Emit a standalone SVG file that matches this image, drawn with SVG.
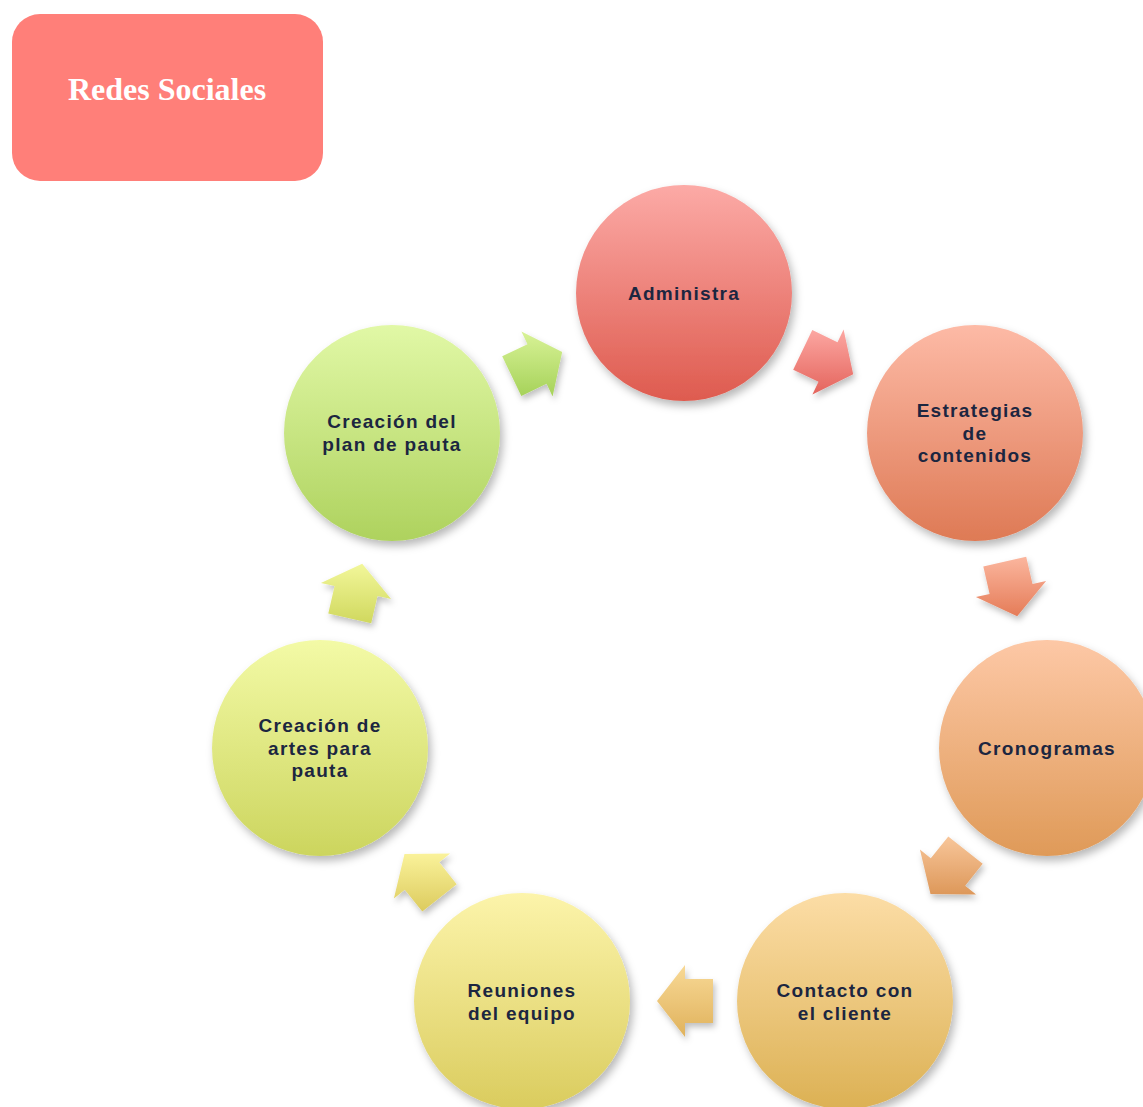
<svg xmlns="http://www.w3.org/2000/svg" width="1143" height="1107" viewBox="0 0 1143 1107">
<style>
.lbl{font-family:"Liberation Sans",Arial,sans-serif;font-size:19px;font-weight:bold;fill:#1c2640;text-anchor:middle;letter-spacing:1.3px}
.title{font-family:"Liberation Serif","Times New Roman",serif;font-size:32px;font-weight:bold;fill:#ffffff;text-anchor:middle}
</style>
<defs>
<filter id="sh" x="-30%" y="-30%" width="160%" height="160%">
<feDropShadow dx="3" dy="5" stdDeviation="4" flood-color="#000" flood-opacity="0.28"/>
</filter>
<filter id="sha" x="-40%" y="-40%" width="180%" height="180%">
<feDropShadow dx="2" dy="4" stdDeviation="3" flood-color="#000" flood-opacity="0.25"/>
</filter>
<linearGradient id="g1" x1="0" y1="0" x2="0" y2="1"><stop offset="0" stop-color="#fcaaa6"/><stop offset="1" stop-color="#de5b4f"/></linearGradient>
<linearGradient id="g2" x1="0" y1="0" x2="0" y2="1"><stop offset="0" stop-color="#fdbaa6"/><stop offset="1" stop-color="#de7a55"/></linearGradient>
<linearGradient id="g3" x1="0" y1="0" x2="0" y2="1"><stop offset="0" stop-color="#fdc8a6"/><stop offset="1" stop-color="#df9a58"/></linearGradient>
<linearGradient id="g4" x1="0" y1="0" x2="0" y2="1"><stop offset="0" stop-color="#fcdda6"/><stop offset="1" stop-color="#dcb154"/></linearGradient>
<linearGradient id="g5" x1="0" y1="0" x2="0" y2="1"><stop offset="0" stop-color="#fcf4aa"/><stop offset="1" stop-color="#dacc5e"/></linearGradient>
<linearGradient id="g6" x1="0" y1="0" x2="0" y2="1"><stop offset="0" stop-color="#f3faa6"/><stop offset="1" stop-color="#ccd55e"/></linearGradient>
<linearGradient id="g7" x1="0" y1="0" x2="0" y2="1"><stop offset="0" stop-color="#e1f8a6"/><stop offset="1" stop-color="#aed25e"/></linearGradient>
<linearGradient id="a1" x1="0" y1="0" x2="0" y2="1"><stop offset="0" stop-color="#fca7a2"/><stop offset="1" stop-color="#e4645c"/></linearGradient>
<linearGradient id="a2" x1="0" y1="0" x2="0" y2="1"><stop offset="0" stop-color="#fbb69e"/><stop offset="1" stop-color="#e57c58"/></linearGradient>
<linearGradient id="a3" x1="0" y1="0" x2="0" y2="1"><stop offset="0" stop-color="#f8c69a"/><stop offset="1" stop-color="#dd985a"/></linearGradient>
<linearGradient id="a4" x1="0" y1="0" x2="0" y2="1"><stop offset="0" stop-color="#f8d996"/><stop offset="1" stop-color="#e0b25c"/></linearGradient>
<linearGradient id="a5" x1="0" y1="0" x2="0" y2="1"><stop offset="0" stop-color="#faf29a"/><stop offset="1" stop-color="#dccb5e"/></linearGradient>
<linearGradient id="a6" x1="0" y1="0" x2="0" y2="1"><stop offset="0" stop-color="#f2f79a"/><stop offset="1" stop-color="#d0d85e"/></linearGradient>
<linearGradient id="a7" x1="0" y1="0" x2="0" y2="1"><stop offset="0" stop-color="#d8f296"/><stop offset="1" stop-color="#a6d25a"/></linearGradient>
</defs>

<g id="title">
<rect x="12" y="14" width="311" height="167" rx="28" ry="28" fill="#ff7f79"/>
<text class="title" x="167" y="100">Redes Sociales</text>
</g>

<g id="connectors" filter="url(#sha)">
<polygon fill="url(#a1)" points="812.3,330.0 837.5,342.2 843.6,329.6 853.2,374.2 812.4,394.4 818.5,381.8 793.2,369.7"/>
<polygon fill="url(#a2)" points="1026.2,556.8 1032.5,584.1 1046.1,581.0 1017.2,616.3 975.9,597.0 989.6,593.9 983.3,566.6"/>
<polygon fill="url(#a3)" points="982.7,863.8 965.2,885.7 976.1,894.5 930.5,893.9 919.9,849.6 930.8,858.3 948.3,836.4"/>
<polygon fill="url(#a4)" points="713,979 685,979 685,965 657,1001 685,1037 685,1023 713,1023"/>
<polygon fill="url(#a5)" points="422.3,911.6 404.8,889.7 393.9,898.5 404.5,854.1 450.1,853.6 439.2,862.3 456.7,884.2"/>
<polygon fill="url(#a6)" points="328.3,613.4 334.6,586.1 320.9,583.0 362.2,563.7 391.1,599.0 377.5,595.9 371.2,623.2"/>
<polygon fill="url(#a7)" points="502.2,356.3 527.5,344.2 521.4,331.6 562.2,351.9 552.6,396.4 546.6,383.8 521.3,396.0"/>
</g>

<g id="n1"><circle cx="684" cy="293" r="108" fill="url(#g1)" filter="url(#sh)"/><text class="lbl" x="684" y="300">Administra</text></g>
<g id="n2"><circle cx="975" cy="433" r="108" fill="url(#g2)" filter="url(#sh)"/><text class="lbl" x="975" y="417">Estrategias<tspan x="975" dy="22.5">de</tspan><tspan x="975" dy="22.5">contenidos</tspan></text></g>
<g id="n3"><circle cx="1047" cy="748" r="108" fill="url(#g3)" filter="url(#sh)"/><text class="lbl" x="1047" y="755">Cronogramas</text></g>
<g id="n4"><circle cx="845" cy="1001" r="108" fill="url(#g4)" filter="url(#sh)"/><text class="lbl" x="845" y="997">Contacto con<tspan x="845" dy="22.5">el cliente</tspan></text></g>
<g id="n5"><circle cx="522" cy="1001" r="108" fill="url(#g5)" filter="url(#sh)"/><text class="lbl" x="522" y="997">Reuniones<tspan x="522" dy="22.5">del equipo</tspan></text></g>
<g id="n6"><circle cx="320" cy="748" r="108" fill="url(#g6)" filter="url(#sh)"/><text class="lbl" x="320" y="732">Creación de<tspan x="320" dy="22.5">artes para</tspan><tspan x="320" dy="22.5">pauta</tspan></text></g>
<g id="n7"><circle cx="392" cy="433" r="108" fill="url(#g7)" filter="url(#sh)"/><text class="lbl" x="392" y="428">Creación del<tspan x="392" dy="22.5">plan de pauta</tspan></text></g>
</svg>
